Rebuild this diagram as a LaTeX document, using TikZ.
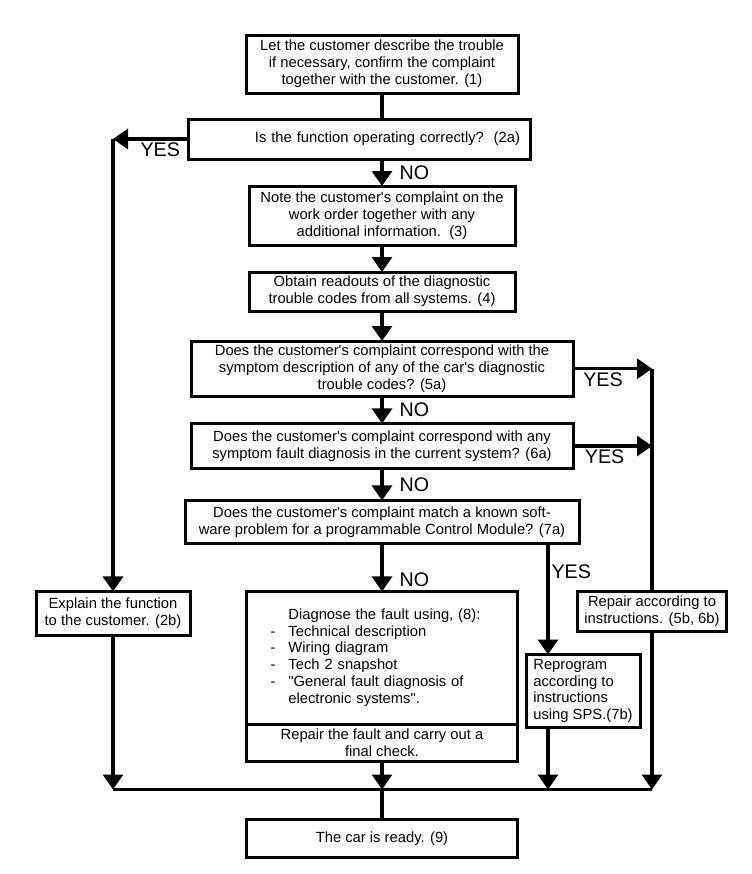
\documentclass[tikz,border=0pt]{standalone}
\usepackage{fontspec}
\setmainfont{Liberation Sans}
\usepackage{tikz}
\usetikzlibrary{arrows.meta, positioning, calc}
\newcommand*{\apo}{\textquotesingle}
\tikzstyle{box} = [draw, rectangle, line width=0.75mm, inner sep=1mm, outer sep=0pt, align=center, font=\fontsize{10.5}{12}\selectfont]
\tikzstyle{answer} = [font=\fontsize{14}{14}\selectfont, inner sep=0.5mm]
\tikzstyle{connect} = [-{Triangle[width=5mm, length=3.75mm]}, line width=0.8mm]
\tikzstyle{flowline} = [line width=0.8mm]

\begin{document}
\begin{tikzpicture}
    \useasboundingbox (0,0) rectangle (188mm,-218.5mm);

    % Main column.
    \node (trouble) [box, anchor=north, minimum width=68mm, minimum height=14.5mm] at (95.5mm,-8.75mm) {Let the customer describe the trouble\\ if necessary, confirm the complaint\\ together with the customer. (1)};
    \node (function) [box, below=6.5mm of trouble, xshift=-5.75mm, text width=80.5mm, inner xsep=2.5mm, align=right, minimum height=10mm] {Is the function operating correctly?~~(2a)};
    \node (note) [box, below=23.25mm of trouble, minimum width=66.5mm, minimum height=14.75mm] {Note the customer\apo s complaint on the\\ work order together with any\\ additional information.~~(3)};
    \node (readout) [box, below=6.75mm of note, minimum width=66.5mm, minimum height=9.75mm] {Obtain readouts of the diagnostic\\ trouble codes from all systems. (4)};
    \node (codes) [box, below=7.5mm of readout, minimum width=95.5mm, minimum height=13.75mm] {Does the customer\apo s complaint correspond with the\\ symptom description of any of the car\apo s diagnostic\\ trouble codes? (5a)};
    \node (fault) [box, below=6.75mm of codes, minimum width=95.5mm, minimum height=11.25mm] {Does the customer\apo s complaint correspond with any\\ symptom fault diagnosis in the current system? (6a)};
    \node (software) [box, below=8mm of fault, minimum width=98.5mm, minimum height=10.75mm] {Does the customer\apo s complaint match a known soft-\\ ware problem for a programmable Control Module? (7a)};
    \node (diagnose) [box, below=12mm of software, text width=55.75mm, inner xsep=6mm, align=left, minimum height=33.25mm] {%
        \begin{tabular}{@{}l@{\hspace{3.25mm}}l@{}}
              & Diagnose the fault using, (8):\\
            - & Technical description\\
            - & Wiring diagram\\
            - & Tech 2 snapshot\\
            - & \textquotedbl General fault diagnosis of\\
              & electronic systems\textquotedbl.
        \end{tabular}};
    \node (repair) [box, below=0mm of diagnose, minimum width=67.75mm, minimum height=9.25mm] {Repair the fault and carry out a\\ final check.};
    \coordinate (join) at ($(repair.south)+(0,-7mm)$);
    \node (ready) [box, below=7.5mm of join, minimum width=67.75mm, minimum height=9.5mm] {The car is ready. (9)};

    % Side branches.
    \coordinate (yesleft) at ($(function.west)+(-18.75mm,0)$);
    \coordinate (yesright) at ($(codes.east)+(19.75mm,0)$);
    \coordinate (yesdown) at ($(software.south east)+(-7.75mm,0)$);
    \node (explain) [box, anchor=north, minimum width=38.5mm, minimum height=11mm] at (yesleft |- diagnose.north) {Explain the function\\ to the customer. (2b)};
    \node (repairinstr) [box, anchor=north, minimum width=37.25mm, minimum height=10mm] at (yesright |- diagnose.north) {Repair according to\\ instructions. (5b, 6b)};
    \node (reprogram) [box, anchor=north west, align=left, minimum width=28.5mm, minimum height=18.25mm] at ($(yesdown |- repairinstr.south)+(-5.5mm,-5.75mm)$) {Reprogram\\ according to\\ instructions\\ using SPS.(7b)};

    % Arrows.
    \draw [flowline] (trouble) -- (trouble |- function.north);
    \draw [connect] (function.south -| note.north) -- node [answer, right=3.5mm] {NO} (note.north);
    \draw [connect] (note) -- (readout);
    \draw [connect] (readout) -- (codes);
    \draw [connect] (codes) -- node [answer, right=3.5mm] {NO} (fault);
    \draw [connect] (fault) -- node [answer, right=3.5mm] {NO} (software);
    \draw [connect] (software) -- node [answer, right=3.5mm, pos=0.75] {NO} (diagnose);

    \draw [connect] (function.west) -- node [answer, below, pos=0.37] {YES} (yesleft);
    \draw [connect] (yesleft) -- (explain);

    \draw [connect] (codes.east) -- node [answer, below, pos=0.38] {YES} (yesright);
    \draw [connect] (fault.east) -- node [answer, below, pos=0.4] {YES} (fault.east -| yesright);
    \draw [flowline] (yesright) -- (repairinstr);

    \draw [connect] (yesdown) -- node [answer, right, pos=0.25] {YES} (yesdown |- reprogram.north);

    % Merge.
    \draw [connect] (explain) -- (explain |- join);
    \draw [connect] (repair) -- (join);
    \draw [connect] (yesdown |- reprogram.south) -- (yesdown |- join);
    \draw [connect] (repairinstr) -- (repairinstr |- join);
    \draw [flowline] (explain |- join) -- (repairinstr |- join);
    \draw [flowline] (join) -- (ready);
\end{tikzpicture}
\end{document}
